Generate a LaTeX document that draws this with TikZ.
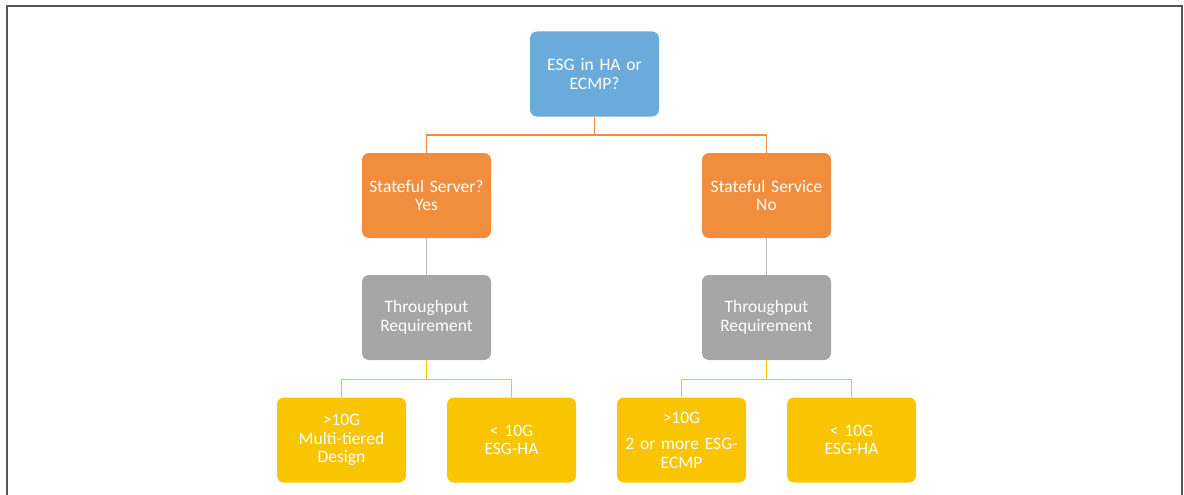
\documentclass[tikz,border=0pt]{standalone}
\usepackage{fontspec}
\setmainfont{Carlito}
\definecolor{cblue}{HTML}{6AABDB}
\definecolor{corange}{HTML}{F08E3E}
\definecolor{cgray}{HTML}{A6A6A6}
\definecolor{cgline}{HTML}{BDBDBD}
\definecolor{cyellow}{HTML}{F9C400}
\definecolor{cframe}{HTML}{555555}
\begin{document}
\begin{tikzpicture}[x=1pt,y=-1pt,
  box/.style={rounded corners=7pt, minimum width=129pt, minimum height=85pt, inner sep=0pt,
    text=white, align=center, font=\fontsize{17.5}{18.5}\selectfont, text width=127pt},
  bluebox/.style={box, fill=cblue},
  orangebox/.style={box, fill=corange},
  graybox/.style={box, fill=cgray},
  yellowbox/.style={box, fill=cyellow},
  oline/.style={draw=corange, line width=1.6pt},
  gline/.style={draw=cgline, line width=1.4pt},
  yline/.style={draw=cyellow, line width=1.4pt}]
\useasboundingbox (0,0) rectangle (1184,495);
\draw[cframe, line width=1.5pt] (7,495) -- (7,6) -- (1182,6) -- (1182,495);

\node[bluebox] (top) at (594.5,74) {ESG in HA or\\ECMP?};
\node[orangebox] (sl) at (426.5,195.5) {Stateful Server?\\Yes};
\node[orangebox] (sr) at (766.5,195.5) {Stateful Service\\No};
\node[graybox] (tl) at (426.5,317.5) {Throughput\\Requirement};
\node[graybox] (tr) at (766.5,317.5) {Throughput\\Requirement};
\node[yellowbox] (l1) at (341.5,440) {>10G\\Multi-tiered\\Design};
\node[yellowbox] (l2) at (511.5,440) {< 10G\\ESG-HA};
\node[yellowbox] (r1) at (681.5,440) {>10G\\[8pt]2 or more ESG-\\ECMP};
\node[yellowbox] (r2) at (851.5,440) {< 10G\\ESG-HA};

\draw[oline] (top.south) -- ++(0,18) -| (sl.north);
\draw[oline] (top.south) -- ++(0,18) -| (sr.north);
\draw[gline] (sl.south) -- (tl.north);
\draw[gline] (sr.south) -- (tr.north);
\draw[yline] (tl.south) -- ++(0,19) -| (l1.north);
\draw[yline] (tl.south) -- ++(0,19) -| (l2.north);
\draw[yline] (tr.south) -- ++(0,19) -| (r1.north);
\draw[yline] (tr.south) -- ++(0,19) -| (r2.north);
\end{tikzpicture}
\end{document}
